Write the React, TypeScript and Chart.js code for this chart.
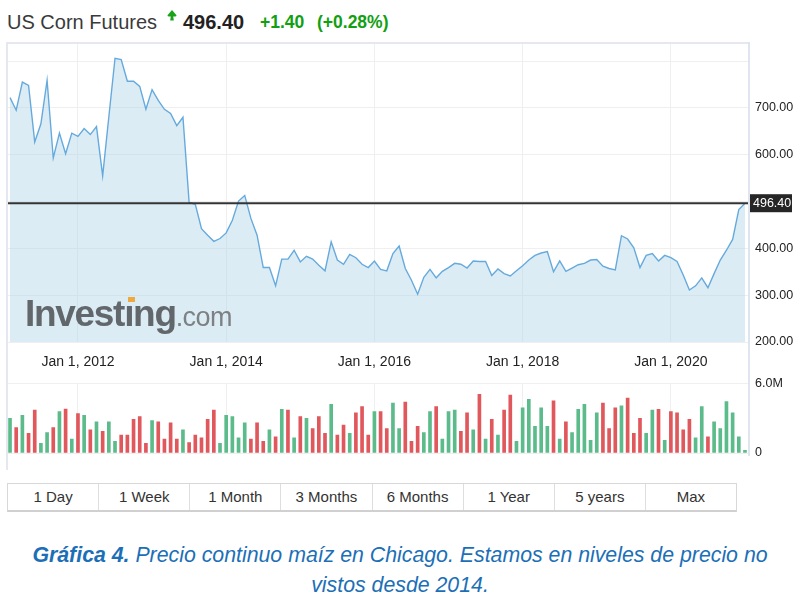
import React, { useEffect, useRef } from "react";
import { Chart, registerables } from "chart.js";

Chart.register(...registerables);

const FONT = 'Arial, "Liberation Sans", Helvetica, sans-serif';

// first monthly point: Feb 2011
const FIRST_YEAR = 2011;
const FIRST_MONTH = 2;

// monthly closing price (US cents / bushel)
const PRICE = [
  722, 695, 755, 748, 627, 666, 759, 593, 646, 602,
  646, 639, 656, 643, 660, 555, 681, 806, 803, 757,
  757, 746, 697, 739, 716, 697, 688, 662, 680, 498,
  494, 442, 428, 415, 421, 433, 460, 501, 513, 464,
  428, 359, 359, 320, 377, 377, 396, 371, 383, 377,
  364, 352, 414, 375, 366, 387, 380, 366, 359, 373,
  355, 352, 389, 405, 357, 332, 302, 338, 355, 337,
  351, 359, 368, 366, 358, 373, 372, 372, 342, 356,
  346, 341, 352, 363, 375, 385, 390, 393, 350, 373,
  351, 358, 365, 368, 375, 376, 362, 357, 354, 427,
  420, 401, 359, 385, 389, 373, 385, 380, 372, 343,
  311, 320, 337, 316, 346, 375, 396, 419, 483, 496.4,
];

// monthly volume, millions of contracts
const VOLUME_M = [
  3.0, 2.2, 3.25, 1.7, 3.7, 0.83, 1.76, 2.2, 3.57, 3.8,
  1.2, 3.4, 3.25, 2.0, 2.7, 1.87, 2.7, 1.0, 1.55, 1.55,
  2.9, 3.15, 0.83, 2.8, 2.7, 1.2, 2.6, 1.2, 2.0, 0.9,
  1.55, 1.3, 2.9, 3.7, 0.83, 3.25, 3.15, 1.3, 2.6, 1.2,
  2.6, 1.0, 2.0, 1.4, 3.76, 3.7, 1.3, 3.15, 3.0, 2.1,
  3.15, 1.7, 4.2, 1.55, 2.4, 1.7, 3.47, 4.0, 1.55, 3.57,
  3.57, 2.1, 4.3, 2.1, 4.4, 1.0, 2.3, 1.76, 3.57, 4.0,
  1.2, 3.57, 3.7, 1.87, 3.47, 2.0, 5.07, 1.2, 2.9, 1.55,
  3.7, 5.0, 1.0, 3.9, 4.64, 2.3, 3.9, 2.3, 4.5, 1.2,
  2.7, 1.76, 3.76, 4.2, 1.1, 3.47, 4.3, 2.1, 3.9, 4.08,
  4.75, 1.7, 3.0, 1.7, 3.7, 3.76, 1.1, 3.57, 3.47, 2.0,
  2.9, 1.3, 4.0, 1.4, 2.7, 2.1, 4.43, 3.47, 1.4, 0.24,
];

// g = up month (green bar), r = down month (red bar)
const VOLUME_DIR = [
  "g", "r", "g", "r", "r", "g", "g", "r", "g", "r",
  "g", "r", "g", "r", "g", "r", "g", "g", "r", "r",
  "r", "r", "r", "g", "r", "r", "r", "r", "g", "r",
  "r", "r", "r", "r", "g", "g", "g", "g", "g", "r",
  "r", "r", "g", "r", "g", "r", "g", "r", "g", "r",
  "r", "r", "g", "r", "r", "g", "r", "r", "r", "g",
  "r", "r", "g", "g", "r", "r", "r", "g", "g", "r",
  "g", "g", "g", "r", "r", "g", "r", "g", "r", "g",
  "r", "r", "g", "g", "g", "g", "g", "g", "r", "g",
  "r", "g", "g", "g", "g", "g", "r", "r", "r", "g",
  "r", "r", "r", "g", "g", "r", "g", "r", "r", "r",
  "r", "g", "g", "r", "g", "g", "g", "g", "g", "g",
];

const MONTHS = PRICE.map((_, i) => {
  const m = FIRST_MONTH - 1 + i;
  return `${FIRST_YEAR + Math.floor(m / 12)}-${String((m % 12) + 1).padStart(2, "0")}`;
});

const X_TICK_MONTHS = ["2012-01", "2014-01", "2016-01", "2018-01", "2020-01"];
const X_TICK_LABELS = ["Jan 1, 2012", "Jan 1, 2014", "Jan 1, 2016", "Jan 1, 2018", "Jan 1, 2020"];
const X_TICK_INDEX = X_TICK_MONTHS.map((m) => MONTHS.indexOf(m));

const Y_TICK_VALUES = [200, 300, 400, 500, 600, 700, 800];
const Y_TICK_LABELS = ["200.00", "300.00", "400.00", "", "600.00", "700.00", ""];
const VOL_TICK_VALUES = [0, 6];
const VOL_TICK_LABELS = ["0", "6.0M"];

const LAST_PRICE = 496.4;
const LAST_PRICE_LABEL = "496.40";
const TITLE = "US Corn Futures";
const CHANGE = "+1.40";
const CHANGE_PCT = "(+0.28%)";
const BUTTONS = ["1 Day", "1 Week", "1 Month", "3 Months", "6 Months", "1 Year", "5 years", "Max"];

const X_MIN = -0.49;
const X_MAX = 119.65;

const GRID = "#efefef";
const GREEN = "#5cbb8a";
const RED = "#e0575c";

const lastPricePlugin = {
  id: "lastPrice",
  afterDraw(chart: any) {
    const { ctx, chartArea, scales } = chart;
    const y = scales.y.getPixelForValue(LAST_PRICE);
    ctx.save();
    ctx.strokeStyle = "#333";
    ctx.lineWidth = 2;
    ctx.beginPath();
    ctx.moveTo(chartArea.left, y);
    ctx.lineTo(chartArea.right, y);
    ctx.stroke();
    ctx.fillStyle = "#262626";
    ctx.fillRect(chartArea.right - 1, y - 9, 44, 18);
    ctx.fillStyle = "#ffffff";
    ctx.font = `12.5px ${FONT}`;
    ctx.textAlign = "left";
    ctx.textBaseline = "middle";
    ctx.fillText(LAST_PRICE_LABEL, chartArea.right + 4, y + 0.5);
    ctx.restore();
  },
};

export default function App() {
  const priceRef = useRef<HTMLCanvasElement>(null);
  const volRef = useRef<HTMLCanvasElement>(null);

  useEffect(() => {
    Chart.defaults.font.family = FONT;

    const priceChart = new Chart(priceRef.current as HTMLCanvasElement, {
      type: "line",
      data: {
        datasets: [
          {
            data: PRICE.map((v, i) => ({ x: i, y: v })),
            borderColor: "#66aadd",
            borderWidth: 1.4,
            backgroundColor: "rgba(176, 213, 230, 0.45)",
            fill: "start",
            pointRadius: 0,
            tension: 0,
          },
        ],
      },
      options: {
        animation: false,
        responsive: false,
        maintainAspectRatio: false,
        layout: { padding: { left: 7, top: 13, right: 0, bottom: 0 } },
        plugins: { legend: { display: false }, tooltip: { enabled: false } },
        scales: {
          x: {
            type: "linear",
            min: X_MIN,
            max: X_MAX,
            offset: false,
            afterBuildTicks: (s: any) => {
              s.ticks = X_TICK_INDEX.map((v) => ({ value: v }));
            },
            afterFit: (s: any) => {
              s.height = 38;
            },
            ticks: {
              callback: (v: any) => X_TICK_LABELS[X_TICK_INDEX.indexOf(v)] ?? "",
              font: { size: 14 },
              color: "#222",
              padding: 12,
              maxRotation: 0,
              autoSkip: false,
            },
            grid: { color: GRID, drawTicks: false },
            border: { display: false },
          },
          y: {
            position: "right",
            min: 200,
            max: 837.5,
            afterBuildTicks: (s: any) => {
              s.ticks = Y_TICK_VALUES.map((v) => ({ value: v }));
            },
            afterFit: (s: any) => {
              s.width = 51;
            },
            ticks: {
              callback: (v: any) => Y_TICK_LABELS[Y_TICK_VALUES.indexOf(v)] ?? "",
              font: { size: 12.5 },
              color: "#222",
              padding: 6,
            },
            grid: { color: GRID, drawTicks: false },
            border: { display: false },
          },
        },
      },
      plugins: [lastPricePlugin],
    } as any);

    const volChart = new Chart(volRef.current as HTMLCanvasElement, {
      type: "bar",
      data: {
        datasets: [
          {
            data: VOLUME_M.map((v, i) => ({ x: i, y: v })),
            backgroundColor: VOLUME_DIR.map((d) => (d === "g" ? GREEN : RED)),
            barThickness: 3,
            borderWidth: 0,
          },
        ],
      },
      options: {
        animation: false,
        responsive: false,
        maintainAspectRatio: false,
        layout: { padding: { left: 7, top: 9, right: 0, bottom: 0 } },
        plugins: { legend: { display: false }, tooltip: { enabled: false } },
        scales: {
          x: {
            type: "linear",
            min: X_MIN,
            max: X_MAX,
            offset: false,
            afterBuildTicks: (s: any) => {
              s.ticks = X_TICK_INDEX.map((v) => ({ value: v }));
            },
            afterFit: (s: any) => {
              s.height = 17;
            },
            ticks: { display: false },
            grid: { color: GRID, drawTicks: false, offset: false },
            border: { display: false },
          },
          y: {
            position: "right",
            min: 0,
            max: 6,
            afterBuildTicks: (s: any) => {
              s.ticks = VOL_TICK_VALUES.map((v) => ({ value: v }));
            },
            afterFit: (s: any) => {
              s.width = 51;
            },
            ticks: {
              callback: (v: any) => VOL_TICK_LABELS[VOL_TICK_VALUES.indexOf(v)] ?? "",
              font: { size: 12.5 },
              color: "#222",
              padding: 6,
            },
            grid: { color: GRID, drawTicks: false },
            border: { display: false },
          },
        },
      },
    } as any);

    return () => {
      priceChart.destroy();
      volChart.destroy();
    };
  }, []);

  const abs = (s: React.CSSProperties): React.CSSProperties => ({ position: "absolute", ...s });

  return (
    <div
      style={{
        position: "absolute",
        left: 0,
        top: 0,
        width: 800,
        height: 599,
        background: "#fff",
        overflow: "hidden",
        fontFamily: FONT,
      }}
    >
      {/* header */}
      <span style={abs({ left: 7, top: 11.6, fontSize: 20, lineHeight: "20px", color: "#3a3a3a", whiteSpace: "nowrap" })}>
        {TITLE}
      </span>
      <svg style={abs({ left: 167, top: 10, width: 10, height: 11 })} viewBox="0 0 10 11">
        <path d="M5 0 L9.5 5.2 Q9.6 6.6 8 6.6 L6.2 6.6 L6.8 10.5 L3.2 10.5 L3.8 6.6 L2 6.6 Q0.4 6.6 0.5 5.2 Z" fill="#19a319" />
      </svg>
      <span
        style={abs({ left: 183, top: 11.6, fontSize: 20, lineHeight: "20px", fontWeight: "bold", color: "#222", whiteSpace: "nowrap" })}
      >
        {LAST_PRICE_LABEL}
      </span>
      <span
        style={abs({ left: 260, top: 13.7, fontSize: 17.5, lineHeight: "17.5px", fontWeight: "bold", color: "#11a011", whiteSpace: "nowrap" })}
      >
        {CHANGE}
      </span>
      <span
        style={abs({ left: 317, top: 13.7, fontSize: 17.5, lineHeight: "17.5px", fontWeight: "bold", color: "#11a011", whiteSpace: "nowrap" })}
      >
        {CHANGE_PCT}
      </span>

      {/* charts */}
      <canvas ref={priceRef} width={800} height={350} style={abs({ left: 0, top: 30, width: 800, height: 350 })} />
      <canvas ref={volRef} width={800} height={100} style={abs({ left: 0, top: 370, width: 800, height: 100 })} />

      {/* watermark */}
      <div
        style={abs({
          left: 25,
          top: 296,
          whiteSpace: "nowrap",
          lineHeight: "36px",
          pointerEvents: "none",
        })}
      >
        <span style={{ fontSize: 37, fontWeight: "bold", color: "#62676b", letterSpacing: -1.3 }}>Investıng</span>
        <span style={{ fontSize: 27, color: "#7d8184", letterSpacing: -0.6 }}>.com</span>
      </div>
      <div style={abs({ left: 128, top: 297, width: 7, height: 5, background: "#eeaa40" })} />

      {/* frame */}
      <div style={abs({ left: 7, top: 42, width: 743, height: 2, background: "#e5e8ee" })} />
      <div style={abs({ left: 6, top: 42, width: 2, height: 428, background: "#e5e8ee" })} />
      <div style={abs({ left: 748, top: 42, width: 2, height: 414, background: "#dfe5ee" })} />

      {/* range buttons */}
      <div
        style={abs({
          left: 7,
          top: 483,
          width: 730,
          height: 29,
          boxSizing: "border-box",
          border: "1px solid #d8d8d8",
          borderBottom: "2px solid #d0d0d0",
          display: "flex",
          background: "#fff",
        })}
      >
        {BUTTONS.map((b, i) => (
          <div
            key={b}
            style={{
              flex: 1,
              textAlign: "center",
              fontSize: 15,
              lineHeight: "26px",
              color: "#333",
              borderRight: i < BUTTONS.length - 1 ? "1px solid #dedede" : "none",
            }}
          >
            {b}
          </div>
        ))}
      </div>

      {/* caption */}
      <div
        style={abs({
          left: 0,
          top: 540,
          width: 800,
          textAlign: "center",
          fontSize: 21.3,
          lineHeight: "30px",
          fontStyle: "italic",
          color: "#1c6fb7",
        })}
      >
        <b>Gráfica 4.</b> Precio continuo maíz en Chicago. Estamos en niveles de precio no
        <br />
        vistos desde 2014.
      </div>
    </div>
  );
}
